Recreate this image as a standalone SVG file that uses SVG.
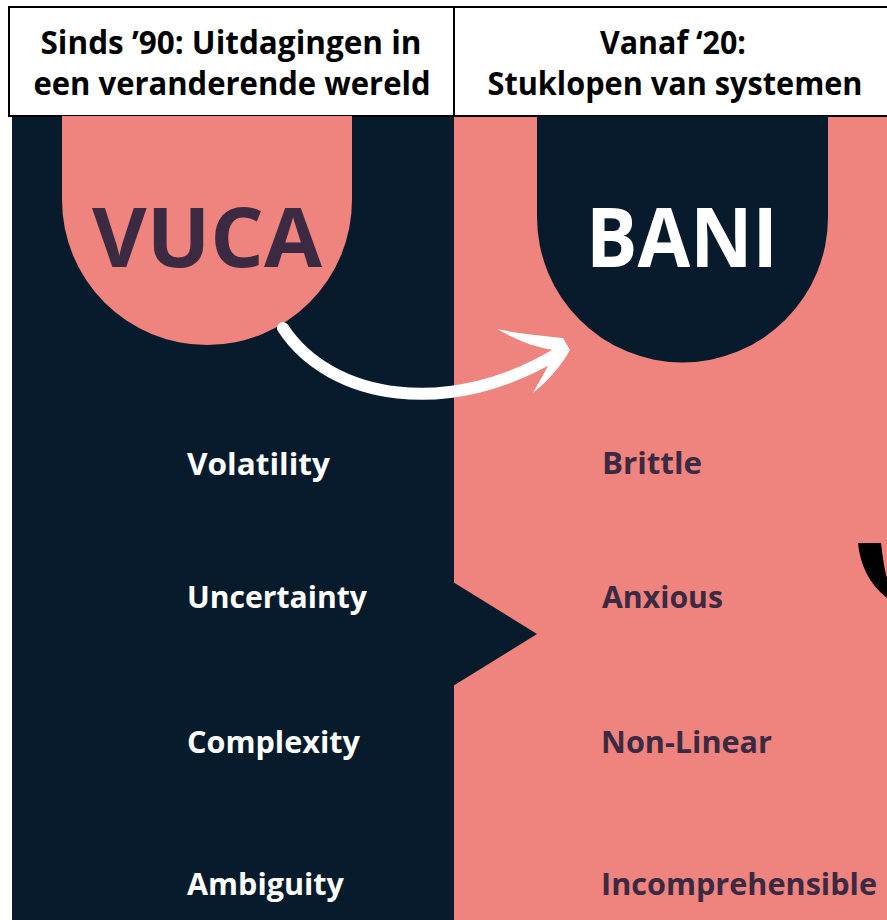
<svg xmlns="http://www.w3.org/2000/svg" width="887" height="920" viewBox="0 0 887 920">
  <style>
    .hdr { font-family: "Open Sans", "Liberation Sans", sans-serif; font-weight: 700; font-size: 32px; fill: #000; text-anchor: middle; }
    .big { font-family: "Open Sans", "Liberation Sans", sans-serif; font-weight: 700; font-size: 83px; text-anchor: middle; }
    .lbl { font-family: "Open Sans", "Liberation Sans", sans-serif; font-weight: 700; font-size: 30px; }
    .light { fill: #ffffff; }
    .dark { fill: #3b2a42; }
  </style>
  <rect x="0" y="0" width="887" height="920" fill="#ffffff"/>
  <g id="panels">
    <rect x="12" y="116" width="442" height="804" fill="#071b2c"/>
    <rect x="454" y="116" width="433" height="804" fill="#ef837d"/>
    <polygon points="453,582 537,634 453,686" fill="#071b2c"/>
    <path d="M858,543 L881,543 C883,560 885,572 887,578 L887,598 C870,585 860,565 858,543 Z" fill="#000000"/>
  </g>
  <g id="header-left">
    <rect x="9" y="7" width="445" height="109" fill="#ffffff" stroke="#000" stroke-width="2"/>
    <text class="hdr" x="231" y="54" textLength="381" lengthAdjust="spacingAndGlyphs">Sinds ’90: Uitdagingen in</text>
    <text class="hdr" x="232" y="95" textLength="397" lengthAdjust="spacingAndGlyphs">een veranderende wereld</text>
  </g>
  <g id="header-right">
    <path d="M887,7 L454,7 L454,116 L887,116" fill="#ffffff" stroke="#000" stroke-width="2"/>
    <text class="hdr" x="673" y="54" textLength="146" lengthAdjust="spacingAndGlyphs">Vanaf ‘20:</text>
    <text class="hdr" x="675" y="95" textLength="375" lengthAdjust="spacingAndGlyphs">Stuklopen van systemen</text>
  </g>
  <g id="vuca">
    <path d="M62,116 L352,116 L352,200 A145,145 0 0 1 62,200 Z" fill="#ef837d"/>
    <text class="big dark" x="207" y="267" textLength="230" lengthAdjust="spacingAndGlyphs">VUCA</text>
  </g>
  <g id="bani">
    <path d="M537,116 L828,116 L828,217 A145.5,145.5 0 0 1 537,217 Z" fill="#071b2c"/>
    <text class="big light" x="682" y="267" textLength="192" lengthAdjust="spacingAndGlyphs">BANI</text>
  </g>
  <g id="connectors">
    <path d="M283,328 C330,400 450,420 560,352" fill="none" stroke="#ffffff" stroke-width="12" stroke-linecap="round"/>
    <path d="M497,329 C520,334 545,336 563,338 L570,350 C550,352 525,345 497,329 Z" fill="#ffffff"/>
    <path d="M533,393 C540,380 549,366 554,352 L570,350 C561,366 548,381 533,393 Z" fill="#ffffff"/>
  </g>
  <g id="vuca-labels">
    <text class="lbl light" x="187" y="475" textLength="143" lengthAdjust="spacingAndGlyphs">Volatility</text>
    <text class="lbl light" x="187" y="608" textLength="180" lengthAdjust="spacingAndGlyphs">Uncertainty</text>
    <text class="lbl light" x="187" y="753" textLength="173" lengthAdjust="spacingAndGlyphs">Complexity</text>
    <text class="lbl light" x="187" y="895" textLength="157" lengthAdjust="spacingAndGlyphs">Ambiguity</text>
  </g>
  <g id="bani-labels">
    <text class="lbl dark" x="602" y="474" textLength="100" lengthAdjust="spacingAndGlyphs">Brittle</text>
    <text class="lbl dark" x="602" y="608" textLength="121" lengthAdjust="spacingAndGlyphs">Anxious</text>
    <text class="lbl dark" x="601" y="753" textLength="171" lengthAdjust="spacingAndGlyphs">Non-Linear</text>
    <text class="lbl dark" x="601" y="895" textLength="276" lengthAdjust="spacingAndGlyphs">Incomprehensible</text>
  </g>
</svg>
